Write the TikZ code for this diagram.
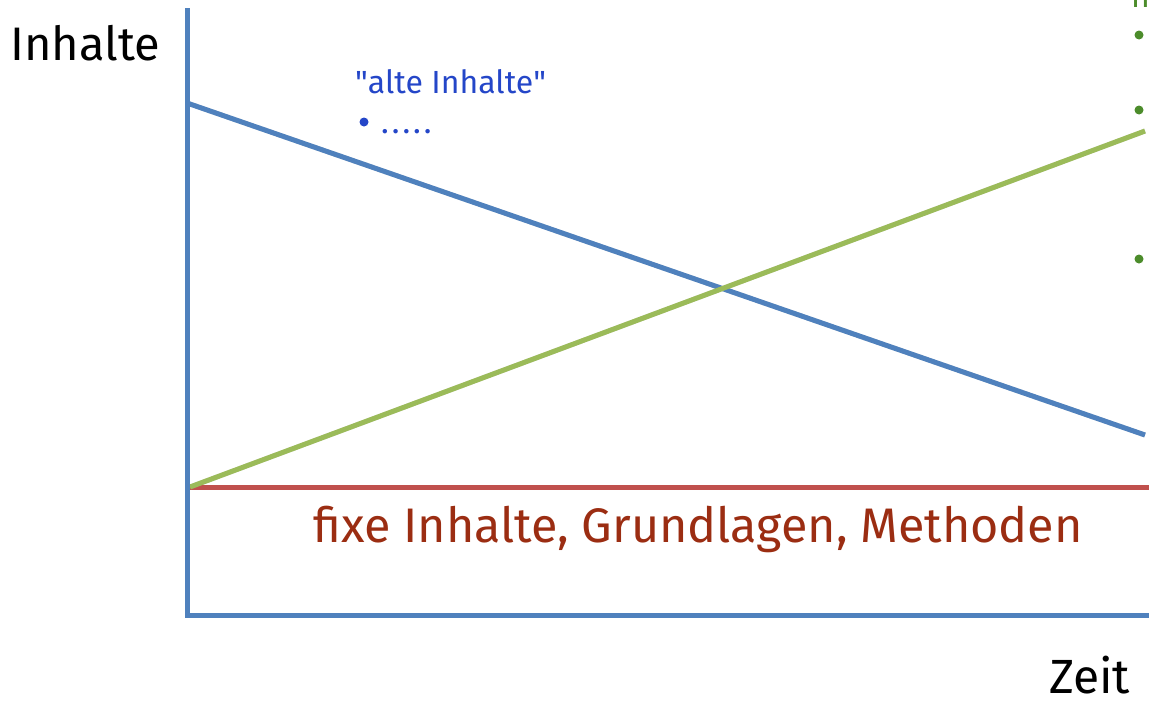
\documentclass[tikz,border=0pt]{standalone}
\usepackage{fontspec}
\setmainfont{Fira Sans}
\definecolor{axisblue}{HTML}{4F81BD}
\definecolor{lgreen}{HTML}{9BBB59}
\definecolor{lred}{HTML}{C0504D}
\definecolor{txtred}{HTML}{9B2D12}
\definecolor{txtblue}{HTML}{2446C8}
\definecolor{bulgreen}{HTML}{4C8C2B}
\tikzset{
  shadowline/.style={line width=5pt, draw=black, opacity=0.12, shift={(2,3)}},
  axisline/.style={line width=5pt, draw=axisblue},
  label/.style={inner sep=0pt, anchor=base west},
}
\begin{document}
\begin{tikzpicture}[x=1pt,y=-1pt]
\useasboundingbox (0,0) rectangle (1149,702);
\coordinate (ytop) at (187,8);
\coordinate (origin) at (187,615);
\coordinate (xend) at (1149,615);
\coordinate (base) at (190,487);
\coordinate (redstart) at (187,487);
\coordinate (redend) at (1149,487);
\coordinate (greenend) at (1145,131);
\coordinate (bluestart) at (187,103);
\coordinate (blueend) at (1145,435);
% shadows
\draw[shadowline] (ytop) -- (origin) -- (xend);
\draw[shadowline] (redstart) -- (redend);
\draw[shadowline] (base) -- (greenend);
\draw[shadowline] (bluestart) -- (blueend);
% lines
\draw[axisline] (bluestart) -- (blueend);
\draw[line width=5pt, draw=lred] (redstart) -- (redend);
\draw[line width=5pt, draw=lgreen] (base) -- (greenend);
\draw[axisline] (ytop) -- (origin) -- (xend);
% texts
\node[label, font=\fontsize{47}{50}\selectfont] (ylab) at (10,60) {Inhalte};
\node[label, font=\fontsize{48}{50}\selectfont] (xlab) at (1049,693) {Zeit};
\node[label, text=txtred, font=\fontsize{48.5}{52}\selectfont] (fix) at (313,542) {fixe Inhalte, Grundlagen, Methoden};
\node[label, text=txtblue, font=\fontsize{32}{36}\selectfont] (alt) at (355,93) {\textquotedbl alte Inhalte\textquotedbl};
\fill[txtblue] (364,122) circle (4.5);
\node[label, text=txtblue, font=\fontsize{32}{36}\selectfont] (dots) at (381,133) {.\kern3pt.\kern3pt.\kern3pt.\kern3pt.};
\node[label, text=bulgreen, font=\fontsize{32}{36}\selectfont] (neu) at (1131,7) {n};
\foreach \yy in {35,110,259} \fill[bulgreen] (1139,\yy) circle (4.5);
\end{tikzpicture}
\end{document}
